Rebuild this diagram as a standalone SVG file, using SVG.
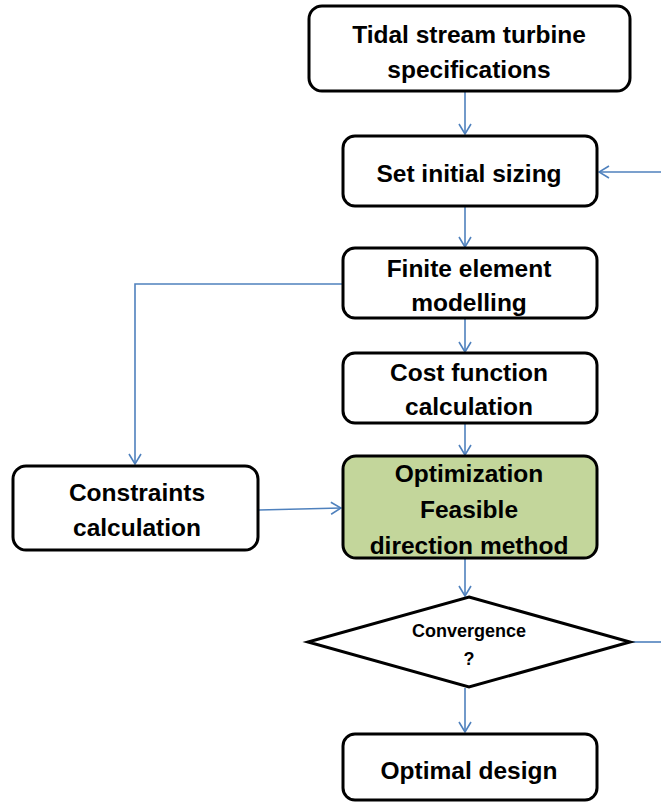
<svg xmlns="http://www.w3.org/2000/svg" width="661" height="802" viewBox="0 0 661 802">
  <style>
    .box { fill: #ffffff; stroke: #000000; stroke-width: 3; }
    .hl { fill: #c3d69b; }
    .lbl { font-family: "Liberation Sans", Arial, sans-serif; font-weight: bold; font-size: 24.5px; fill: #000000; text-anchor: middle; }
    .small { font-size: 18px; }
    .conn { fill: none; stroke: #4f81bd; stroke-width: 1.6; }
  </style>
  <defs>
    <marker id="vhead" viewBox="0 0 12 14" refX="11" refY="7" markerWidth="12" markerHeight="14" markerUnits="userSpaceOnUse" orient="auto">
      <path d="M1,1 L11,7 L1,13" fill="none" stroke="#4f81bd" stroke-width="1.6"/>
    </marker>
  </defs>

  <g id="connectors">
    <line class="conn" x1="465" y1="92" x2="465" y2="134" marker-end="url(#vhead)"/>
    <line class="conn" x1="661" y1="172" x2="599" y2="172" marker-end="url(#vhead)"/>
    <line class="conn" x1="465" y1="207" x2="465" y2="247" marker-end="url(#vhead)"/>
    <polyline class="conn" points="342,284 135,284 135,464" marker-end="url(#vhead)"/>
    <line class="conn" x1="465" y1="319" x2="465" y2="352" marker-end="url(#vhead)"/>
    <line class="conn" x1="465" y1="424" x2="465" y2="455" marker-end="url(#vhead)"/>
    <line class="conn" x1="259" y1="510" x2="341" y2="508" marker-end="url(#vhead)"/>
    <line class="conn" x1="465" y1="559" x2="465" y2="596" marker-end="url(#vhead)"/>
    <line class="conn" x1="631" y1="642" x2="661" y2="642"/>
    <line class="conn" x1="465" y1="688" x2="465" y2="732" marker-end="url(#vhead)"/>
  </g>

  <g id="turbine-specs">
    <rect class="box" x="309" y="6" width="321" height="85" rx="13"/>
    <text class="lbl" x="469" y="43">Tidal stream turbine</text>
    <text class="lbl" x="469" y="78">specifications</text>
  </g>

  <g id="initial-sizing">
    <rect class="box" x="343" y="136" width="254" height="70" rx="12"/>
    <text class="lbl" x="469" y="182">Set initial sizing</text>
  </g>

  <g id="fe-modelling">
    <rect class="box" x="343" y="248" width="254" height="70" rx="12"/>
    <text class="lbl" x="469" y="277">Finite element</text>
    <text class="lbl" x="469" y="311">modelling</text>
  </g>

  <g id="cost-function">
    <rect class="box" x="343" y="353" width="254" height="70" rx="12"/>
    <text class="lbl" x="469" y="381">Cost function</text>
    <text class="lbl" x="469" y="415">calculation</text>
  </g>

  <g id="constraints">
    <rect class="box" x="13" y="466" width="245" height="84" rx="13"/>
    <text class="lbl" x="137" y="501">Constraints</text>
    <text class="lbl" x="137" y="536">calculation</text>
  </g>

  <g id="optimization">
    <rect class="box hl" x="343" y="456" width="254" height="102" rx="13"/>
    <text class="lbl" x="469" y="482">Optimization</text>
    <text class="lbl" x="469" y="518">Feasible</text>
    <text class="lbl" x="469" y="554">direction method</text>
  </g>

  <g id="convergence">
    <polygon class="box" points="469,597 630,642 469,687 308,642"/>
    <text class="lbl small" x="469" y="637">Convergence</text>
    <text class="lbl small" x="469" y="665">?</text>
  </g>

  <g id="optimal-design">
    <rect class="box" x="343" y="734" width="254" height="66" rx="12"/>
    <text class="lbl" x="469" y="779">Optimal design</text>
  </g>
</svg>
